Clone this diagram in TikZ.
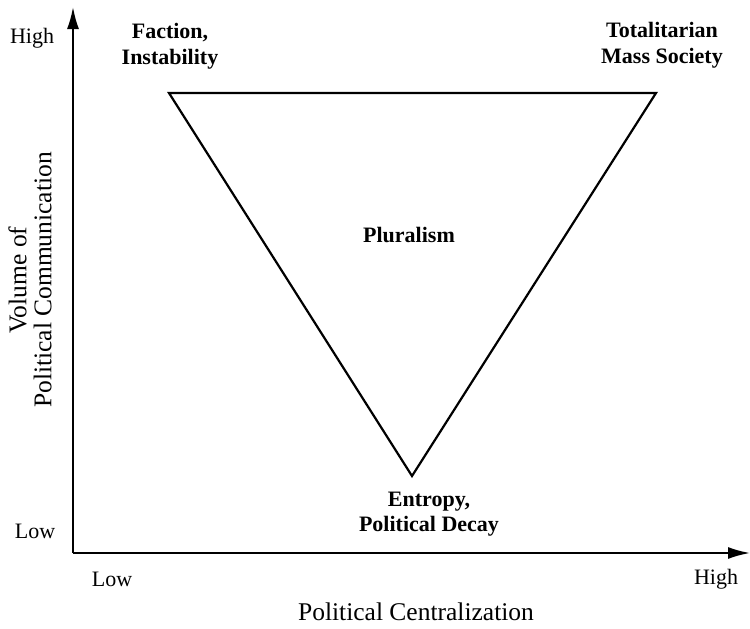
\documentclass[tikz,border=0pt]{standalone}
\usepackage{fontspec}
\setmainfont{Liberation Serif}
\usetikzlibrary{arrows.meta}
\begin{document}
\begin{tikzpicture}[x=1pt,y=-1pt,
  axislbl/.style={font=\fontsize{22}{26}\selectfont, inner sep=0pt},
  titlelbl/.style={font=\fontsize{25.5}{25}\selectfont, inner sep=0pt, align=center},
  regionlbl/.style={font=\bfseries\fontsize{22}{25.5}\selectfont, inner sep=0pt, align=center},
  axisline/.style={line width=2pt, -{Latex[length=22pt,width=12pt]}},
  triline/.style={line width=2.2pt, line join=miter}]
\useasboundingbox (0,0) rectangle (750,629);
\coordinate (O) at (73,553);
\coordinate (ytip) at (73,7);
\coordinate (xtip) at (750,553);
\draw[axisline] (O) -- (ytip);
\draw[axisline] (O) -- (xtip);
\coordinate (tl) at (169,93);
\coordinate (tr) at (656,93);
\coordinate (bt) at (412,476);
\draw[triline] (tl) -- (tr) -- (bt) -- cycle;
\node[axislbl] (yhigh) at (32,38) {High};
\node[axislbl] (ylow) at (35,531) {Low};
\node[axislbl] (xlow) at (112,579) {Low};
\node[axislbl] (xhigh) at (716,579) {High};
\node[titlelbl] (xtitle) at (416,612) {Political Centralization};
\node[titlelbl, rotate=90] (ytitle) at (30,280) {Volume of\\Political Communication};
\node[regionlbl] (faction) at (170,46) {Faction,\\Instability};
\node[regionlbl] (total) at (662,45) {Totalitarian\\Mass Society};
\node[regionlbl] (plural) at (409,235) {Pluralism};
\node[regionlbl] (entropy) at (429,514) {Entropy,\\Political Decay};
\end{tikzpicture}
\end{document}
